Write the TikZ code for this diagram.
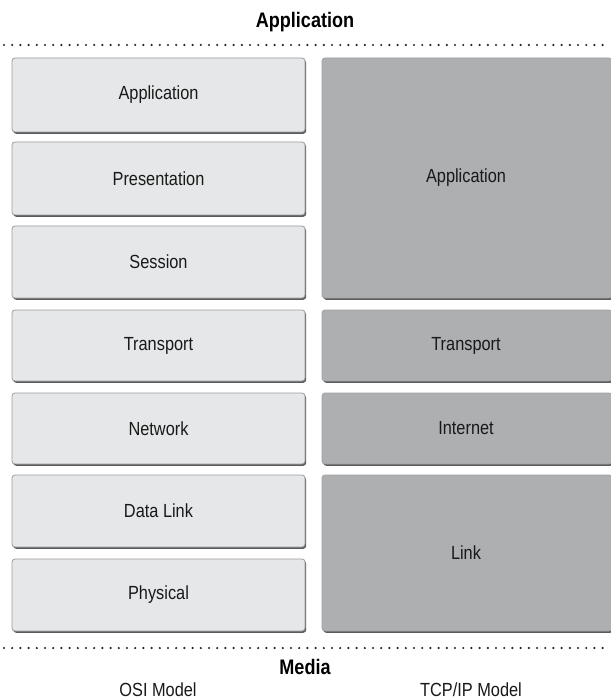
\documentclass[tikz,border=0pt]{standalone}
\usepackage{fontspec}
\setmainfont{Liberation Sans}[FakeStretch=0.86]
\usetikzlibrary{positioning}
\definecolor{osifill}{HTML}{E6E7E8}
\definecolor{tcpfill}{HTML}{AEAFB1}
\definecolor{osiedge}{HTML}{9B9C9E}
\definecolor{shadowc}{HTML}{5A5B5D}
\tikzset{
  layerbox/.style={rounded corners=3pt, line width=0.8pt},
  osibox/.style={layerbox, fill=osifill, draw=osiedge},
  tcpbox/.style={layerbox, fill=tcpfill, draw=tcpfill!92!black},
  layertext/.style={font=\fontsize{19}{21}\selectfont, text=black!90},
  heading/.style={font=\fontsize{21}{23}\selectfont\bfseries},
  caption/.style={font=\fontsize{19}{21}\selectfont, text=black!90},
  dotline/.style={line width=2.4pt, dash pattern=on 0pt off 8.2pt, line cap=round, black!85}
}
\newcommand{\layershadow}[4]{%
  \fill[shadowc, rounded corners=3pt] (#1+1.2,#2+1.8) rectangle (#3+1.2,#4+1.8);
}
\begin{document}
\begin{tikzpicture}[x=1pt,y=-1pt]
\useasboundingbox (0,0) rectangle (610,700);
\fill[white] (0,0) rectangle (610,700);

% headings and dotted lines
\node[heading] (top) at (305,22) {Application};
\coordinate (tl) at (4,45);
\coordinate (tr) at (610,45);
\draw[dotline] (tl) -- (tr);
\coordinate (bl) at (4,648);
\coordinate (br) at (610,648);
\draw[dotline] (bl) -- (br);
\node[heading] (media) at (305,667) {Media};
\node[caption] (osi) at (158,690) {OSI Model};
\node[caption] (tcp) at (471,690) {TCP/IP Model};

% OSI layers
\foreach \nm/\txt/\ya/\yb in {app/Application/58/132, pre/Presentation/142/215, ses/Session/226/298,
  tra/Transport/310/381, net/Network/393/464, dat/Data Link/475/547, phy/Physical/559/631}{
  \layershadow{12}{\ya}{305}{\yb}
  \draw[osibox] (12,\ya) rectangle (305,\yb);
  \node[layertext] (osi\nm) at (158.5,{(\ya+\yb)/2}) {\txt};
}

% TCP/IP layers
\foreach \nm/\txt/\ya/\yb in {app/Application/58/298, tra/Transport/310/381,
  int/Internet/393/464, lnk/Link/475/631}{
  \layershadow{322}{\ya}{612}{\yb}
  \draw[tcpbox] (322,\ya) rectangle (612,\yb);
  \node[layertext] (tcp\nm) at (466,{(\ya+\yb)/2}) {\txt};
}
\end{tikzpicture}
\end{document}
